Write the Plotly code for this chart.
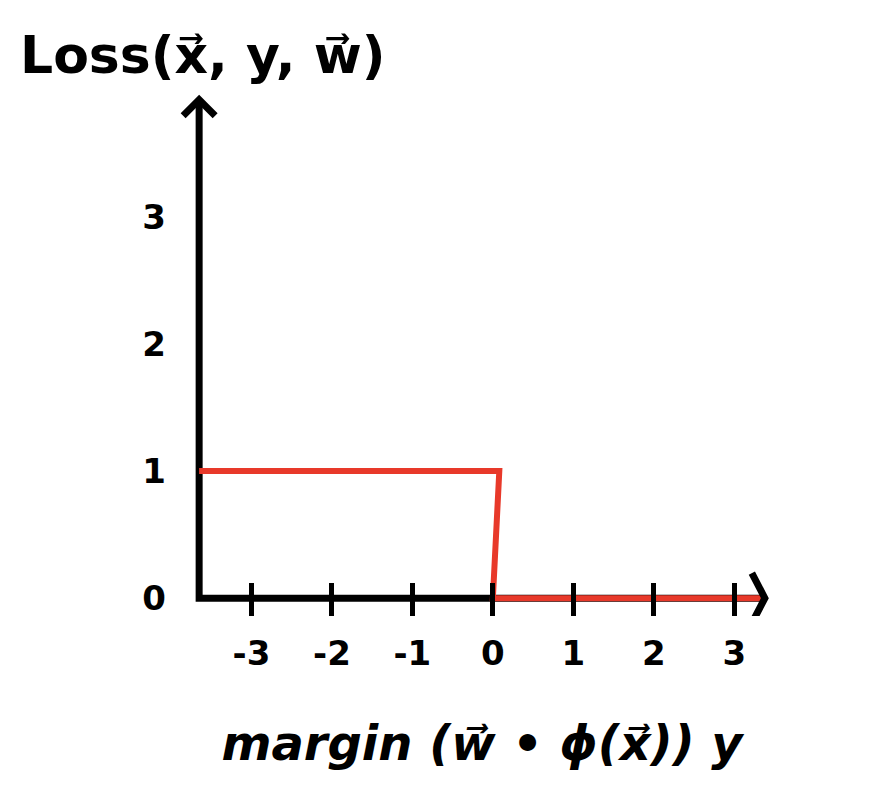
import plotly.graph_objects as go

# data
margin_vals = [-3.65, 0.08, 0.0, 3.35]
loss_vals = [1, 1, 0, 0]
x_ticks = [-3, -2, -1, 0, 1, 2, 3]
y_ticks = [0, 1, 2, 3]

# axis extents (data units)
X0, X1 = -3.65, 3.38      # drawn x-axis from / to (arrow tip)
Y_TOP = 3.92              # drawn y-axis arrow tip
X_RANGE = [-3.95, 3.68]
Y_RANGE = [-0.14, 4.02]

FONT = "DejaVu Sans"
RED = "#E8392A"

W, H = 873, 804
PAD = 8  # browser body margin
x_px = lambda v: 493 + v * 80.5 - PAD
y_px = lambda v: 598 - v * 127 - PAD
L = x_px(X_RANGE[0])
R = W - x_px(X_RANGE[1])
T = y_px(Y_RANGE[1])
B = H - y_px(Y_RANGE[0])

fig = go.Figure()
fig.add_trace(go.Scatter(
    x=margin_vals, y=loss_vals, mode="lines",
    line=dict(color=RED, width=6),
    showlegend=False, hoverinfo="skip", cliponaxis=False,
))

fig.update_layout(
    width=W, height=H,
    margin=dict(l=L, r=R, t=T, b=B, autoexpand=False),
    paper_bgcolor="white", plot_bgcolor="white",
    showlegend=False,
    title=dict(
        text="Loss(x\u20d7, y, w\u20d7)",
        x=(20 - PAD) / W, xanchor="left", xref="container",
        y=1 - (55 - PAD) / H, yanchor="middle", yref="container",
        font=dict(family=FONT, size=52, color="black", weight="bold"),
    ),
    xaxis=dict(
        range=X_RANGE, showgrid=False, zeroline=False, showline=False,
        tickmode="array", tickvals=x_ticks,
        ticktext=[str(v) for v in x_ticks],
        ticks="inside", ticklen=33, tickwidth=5, tickcolor="black",
        ticklabelstandoff=14,
        tickfont=dict(family=FONT, size=34, color="black", weight="bold"),
        title=dict(
            text="<i>margin (w\u20d7 \u2022 \u03d5(x\u20d7)) y</i>",
            font=dict(family=FONT, size=48, color="black", weight="bold"),
            standoff=54,
        ),
        fixedrange=True,
    ),
    yaxis=dict(
        range=Y_RANGE, showgrid=False, zeroline=False, showline=False,
        tickmode="array", tickvals=y_ticks,
        ticktext=[str(v) for v in y_ticks],
        ticks="", ticklabelstandoff=8,
        tickfont=dict(family=FONT, size=34, color="black", weight="bold"),
        fixedrange=True,
    ),
)

# axis lines (below the loss line)
fig.add_shape(
    type="path", xref="x", yref="y", layer="below",
    path=f"M {X1},0 L {X0},0 L {X0},{Y_TOP}",
    line=dict(color="black", width=7),
)
# open chevron arrowheads
fig.add_shape(
    type="path", xref="x", yref="y", layer="above",
    xsizemode="pixel", ysizemode="pixel", xanchor=X1, yanchor=0,
    path="M -13,25 L 0,0 L -13,-25",
    line=dict(color="black", width=7),
)
fig.add_shape(
    type="path", xref="x", yref="y", layer="above",
    xsizemode="pixel", ysizemode="pixel", xanchor=X0, yanchor=Y_TOP,
    path="M -16,-16 L 0,0 L 16,-16",
    line=dict(color="black", width=7),
)

fig.write_html("out.html")
